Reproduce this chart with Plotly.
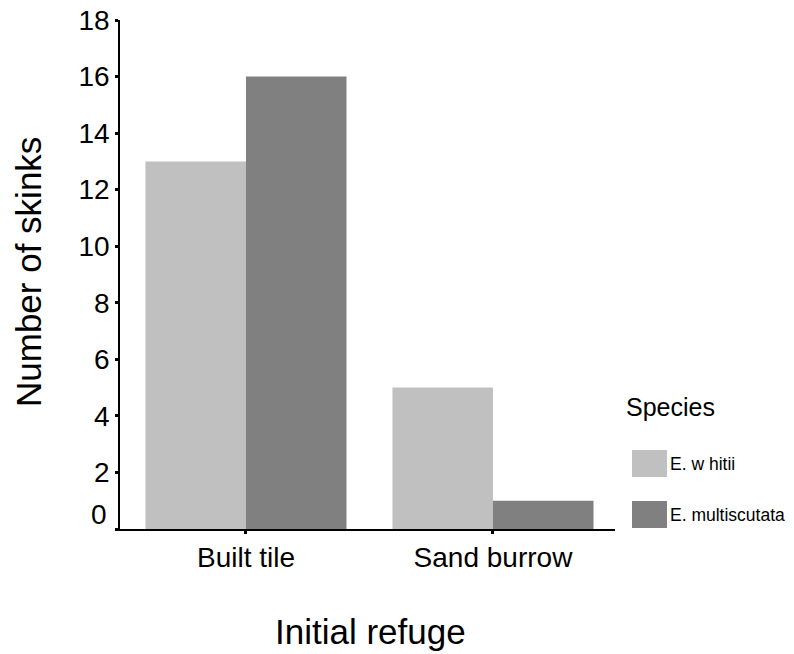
import plotly.graph_objects as go

# Data
refuges = ["Built tile", "Sand burrow"]
species = ["E. w hitii", "E. multiscutata"]
counts_whitii = [13, 5]
counts_multiscutata = [16, 1]
bar_colors = ["#c0c0c0", "#808080"]
y_ticks = [0, 2, 4, 6, 8, 10, 12, 14, 16, 18]

W, H = 794, 654
L, R, T, B = 120, 179, 20, 125
PW, PH = W - L - R, H - T - B
FONT = "Liberation Sans, Arial, sans-serif"


def px_x(p):
    return (p - L) / PW


def px_y(p):
    return (H - B - p) / PH


fig = go.Figure()
for name, vals, col in zip(species, [counts_whitii, counts_multiscutata], bar_colors):
    fig.add_trace(go.Bar(x=refuges, y=vals, name=name, marker_color=col,
                         marker_line_width=0, showlegend=False))

fig.update_layout(
    width=W, height=H,
    margin=dict(l=L, r=R, t=T, b=B),
    paper_bgcolor="white", plot_bgcolor="white",
    barmode="group", bargap=0.186, bargroupgap=0,
    font=dict(family=FONT, color="black"),
    xaxis=dict(range=[-0.51, 1.494], showline=True, linecolor="black", linewidth=1.5,
               ticks="outside", ticklen=3, tickwidth=3, tickcolor="black",
               tickfont=dict(size=28), showgrid=False, zeroline=False,
               automargin=False),
    yaxis=dict(range=[0, 18], showline=True, linecolor="black", linewidth=1.5,
               tickvals=y_ticks,
               ticktext=["" if v == 0 else str(v) for v in y_ticks],
               ticks="outside", ticklen=3, tickwidth=3, tickcolor="black",
               tickfont=dict(size=28), showgrid=False, zeroline=False,
               automargin=False),
)

# zero label sits slightly above its tick
fig.add_annotation(x=0, xref="paper", xshift=-11, xanchor="right",
                   y=0.5, yref="y", yanchor="middle", text="0", showarrow=False,
                   font=dict(size=28))

# axis titles
fig.add_annotation(x=px_x(28), xref="paper", y=px_y(272), yref="paper",
                   text="Number of skinks", textangle=-90, showarrow=False,
                   font=dict(size=35), xanchor="center", yanchor="middle")
fig.add_annotation(x=px_x(370), xref="paper", y=px_y(631), yref="paper",
                   text="Initial refuge", showarrow=False,
                   font=dict(size=35), xanchor="center", yanchor="middle")

# legend
fig.add_annotation(x=px_x(624), xref="paper", y=px_y(407), yref="paper",
                   text="Species", showarrow=False, font=dict(size=25),
                   xanchor="left", yanchor="middle")
for i, (name, col) in enumerate(zip(species, bar_colors)):
    y0, y1 = [(450, 477), (501, 528)][i]
    fig.add_shape(type="rect", xref="paper", yref="paper",
                  x0=px_x(632), x1=px_x(667), y0=px_y(y1), y1=px_y(y0),
                  fillcolor=col, line_width=0)
    fig.add_annotation(x=px_x(668), xref="paper", y=px_y((y0 + y1) / 2), yref="paper",
                       text=name, showarrow=False, font=dict(size=17.5),
                       xanchor="left", yanchor="middle")

fig.write_html("out.html")
